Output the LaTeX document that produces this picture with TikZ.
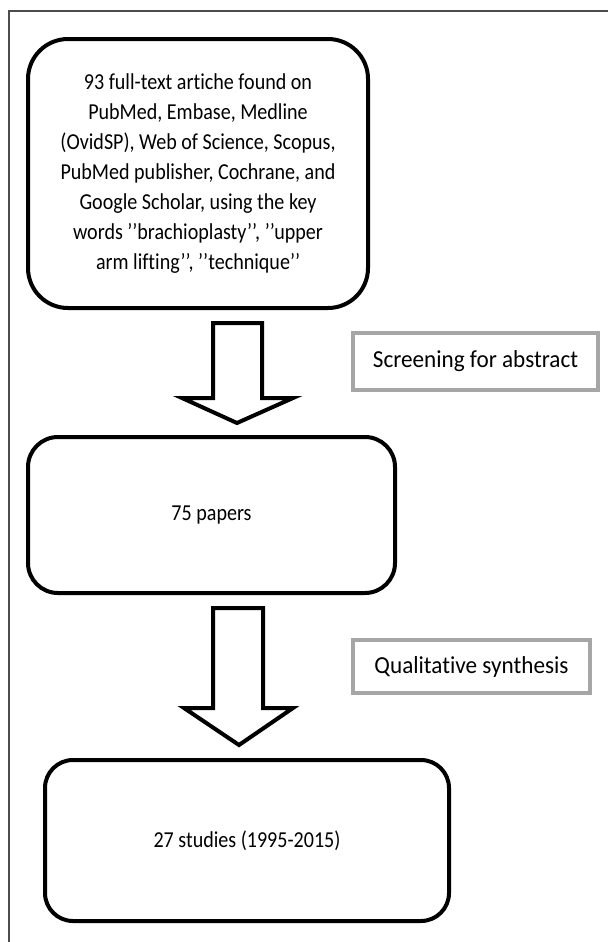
\documentclass[tikz,border=0pt]{standalone}
\usepackage{fontspec}
\setmainfont{Carlito}[Ligatures=NoCommon, FakeStretch=0.88]
\newfontfamily\notefont{Carlito}[Ligatures=NoCommon, FakeStretch=0.95]
\begin{document}
\begin{tikzpicture}[x=0.5pt,y=-0.5pt,
    stagebox/.style={draw, line width=2pt, rounded corners=#1, align=center,
        inner sep=0pt, font=\fontsize{11.4}{15}\selectfont},
    notebox/.style={draw=gray!70, line width=2pt, inner sep=0pt,
        font=\notefont\fontsize{12.2}{14}\selectfont},
    fatarrow/.style={draw, line width=2pt, fill=white, line join=miter}]
    \useasboundingbox (0,0) rectangle (608,942);
    % page frame
    \draw[line width=0.6pt, gray!60!black] (9,942) -- (9,11) -- (608,11);
    % stages
    \node[stagebox=20pt, minimum width=170pt, minimum height=134.5pt] (search) at (198,173.5)
        {93 full-text artiche found on\\ PubMed, Embase, Medline\\ (OvidSP), Web of Science, Scopus,\\
         PubMed publisher, Cochrane, and\\ Google Scholar, using the key\\
         words '{}'brachioplasty'{}', '{}'upper\\ arm lifting'{}', '{}'technique'{}'};
    \node[stagebox=15pt, minimum width=183.5pt, minimum height=78pt] (papers) at (211.5,515)
        {75 papers};
    \node[stagebox=14pt, minimum width=202pt, minimum height=80.5pt] (studies) at (247,840.5)
        {27 studies (1995-2015)};
    % notes
    \node[notebox, minimum width=122.5pt, minimum height=28.5pt] (screen) at (475.5,361.5)
        {Screening for abstract};
    \node[notebox, minimum width=118.5pt, minimum height=26.5pt] (synth) at (471.5,666.5)
        {Qualitative synthesis};
    % block arrows
    \draw[fatarrow] (213,323) -- (213,398) -- (182,398) -- (237,423) --
        (293,398) -- (262,398) -- (262,323) -- cycle;
    \draw[fatarrow] (213,608) -- (213,708) -- (184,708) -- (239,745) --
        (293,708) -- (263,708) -- (263,608) -- cycle;
\end{tikzpicture}
\end{document}
